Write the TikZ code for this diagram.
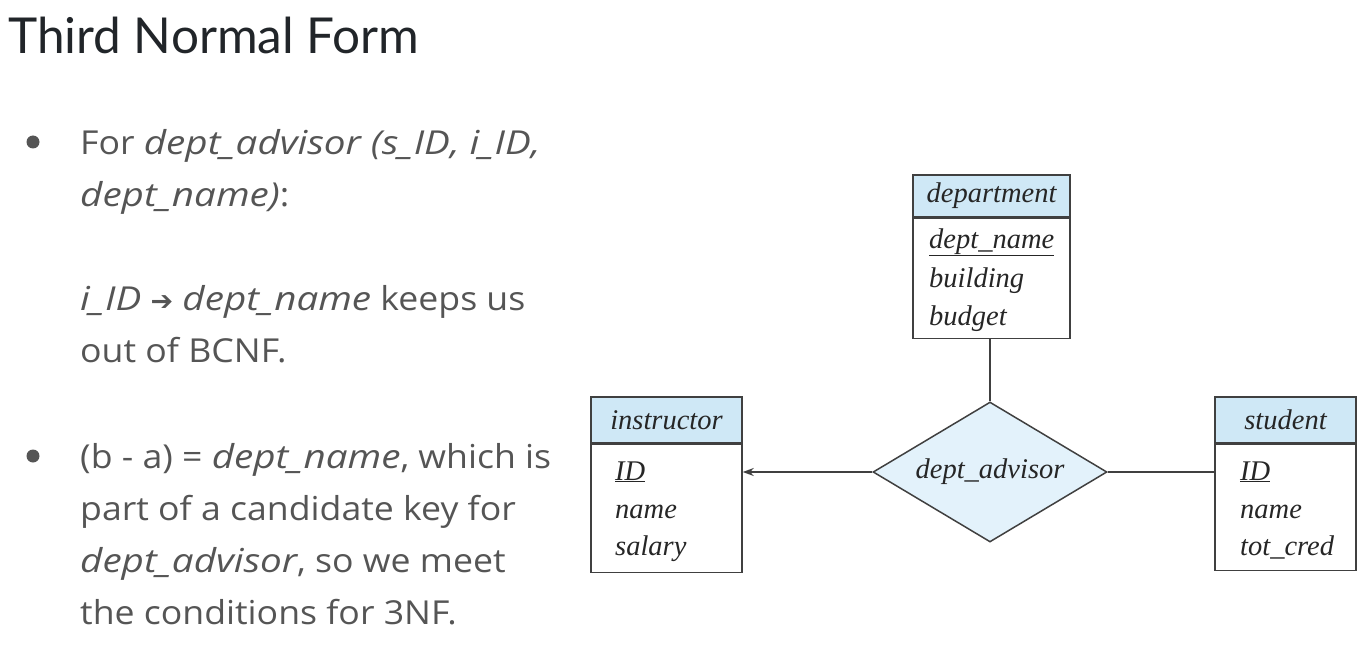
\documentclass[tikz,border=0pt]{standalone}
\usepackage{fontspec}
\setmainfont{Open Sans}[FakeStretch=1.08,ItalicFeatures={FakeStretch=1.17}]
\newfontfamily\titlefont{Lato}
\newfontfamily\erfont{Liberation Serif}
\newfontfamily\arrowfont{DejaVu Sans}
\usetikzlibrary{shapes.geometric,arrows.meta}
\definecolor{txt}{HTML}{555555}
\definecolor{ttl}{HTML}{212529}
\definecolor{hdr}{HTML}{CFE8F6}
\definecolor{dia}{HTML}{E3F2FB}
\definecolor{ln}{HTML}{404040}
\begin{document}
\begin{tikzpicture}[x=1pt,y=-1pt,
  title/.style={anchor=base west,inner sep=0,text=ttl,font=\titlefont\fontsize{49.5}{54}\selectfont},
  body/.style={anchor=base west,inner sep=0,text=txt,font=\fontsize{33}{38}\selectfont},
  dot/.style={circle,fill=txt,inner sep=0,minimum size=13},
  hdrbox/.style={draw=ln,line width=1.5,fill=hdr,inner sep=0,font=\erfont\itshape\fontsize{28.5}{30}\selectfont,text=black!85},
  bodybox/.style={draw=ln,line width=1.5,fill=white,inner sep=0},
  attr/.style={anchor=base west,inner sep=0,font=\erfont\itshape\fontsize{28.5}{30}\selectfont,text=black!85},
  rel/.style={diamond,draw=ln,line width=1.5,fill=dia,inner sep=0,aspect=1.67,minimum width=234,minimum height=140,font=\erfont\itshape\fontsize{28.5}{30}\selectfont,text=black!85},
  conn/.style={draw=ln,line width=1.5}
]
\useasboundingbox (0,0) rectangle (1368,650);

% title
\node[title] (t) at (8,54) {Third Normal Form};

% bullets
\node[dot] (b1) at (33,142) {};
\node[body] (l1) at (80,155) {For \textit{dept\_advisor (s\_ID, i\_ID,}};
\node[body] (l2) at (80,206) {\textit{dept\_name)}:};
\node[body] (l3) at (80,310) {\textit{i\_ID} {\arrowfont\fontsize{27}{28}\selectfont ➔} \textit{dept\_name} keeps us};
\node[body] (l4) at (80,362) {out of BCNF.};
\node[dot] (b2) at (33,456) {};
\node[body] (l5) at (80,468) {(b - a) = \textit{dept\_name}, which is};
\node[body] (l6) at (80,520) {part of a candidate key for};
\node[body] (l7) at (80,572) {\textit{dept\_advisor}, so we meet};
\node[body] (l8) at (80,624) {the conditions for 3NF.};

% department
\node[hdrbox,minimum width=157,minimum height=42] (deph) at (991.5,196) {department};
\node[bodybox,minimum width=157,minimum height=120,anchor=north] (depb) at (deph.south) {};
\node[attr] (d1) at (929,248) {\underline{dept\_name}};
\node[attr] (d2) at (929,287) {building};
\node[attr] (d3) at (929,325) {budget};

% instructor
\node[hdrbox,minimum width=151,minimum height=46] (insh) at (666.5,420) {instructor};
\node[bodybox,minimum width=151,minimum height=128,anchor=north] (insb) at (insh.south) {};
\node[attr] (i1) at (615,480) {\underline{ID}};
\node[attr] (i2) at (615,518) {name};
\node[attr] (i3) at (615,555) {salary};

% student
\node[hdrbox,minimum width=141,minimum height=46] (stuh) at (1285.5,420) {student};
\node[bodybox,minimum width=141,minimum height=126,anchor=north] (stub) at (stuh.south) {};
\node[attr] (s1) at (1240,480) {\underline{ID}};
\node[attr] (s2) at (1240,518) {name};
\node[attr] (s3) at (1240,555) {tot\_cred};

% relationship
\node[rel] (adv) at (990,472) {dept\_advisor};

% connectors
\draw[conn] (adv.north |- depb.south) -- (adv.north);
\draw[conn,-{Stealth[length=11,width=8]}] (adv.west) -- (insb.east |- adv.west);
\draw[conn] (adv.east) -- (stub.west |- adv.east);
\end{tikzpicture}
\end{document}
